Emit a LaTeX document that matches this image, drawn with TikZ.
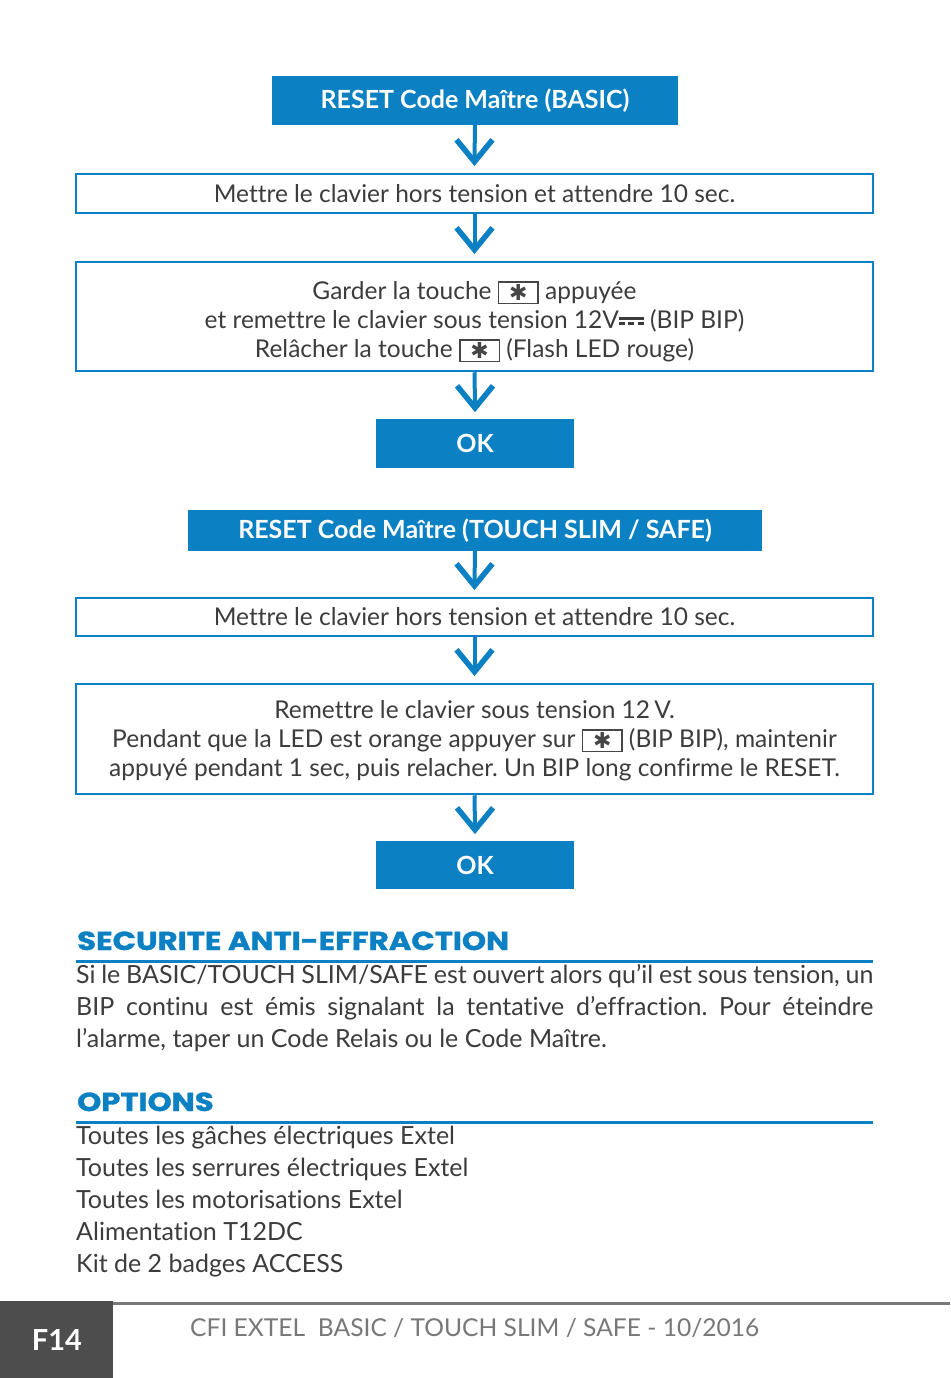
\documentclass[tikz,border=0pt]{standalone}
\usepackage{fontspec}
\setmainfont{Lato}[Ligatures=NoCommon]
\newfontfamily\symfont{DejaVu Sans}
\newfontfamily\headfont{Poppins}[BoldFeatures={FakeBold=1.2}]
\usetikzlibrary{calc}
\frenchspacing
\definecolor{eblue}{RGB}{11,128,194}
\definecolor{etext}{RGB}{60,60,60}
\definecolor{keygrey}{RGB}{70,70,70}
\definecolor{footdark}{RGB}{77,77,77}
\definecolor{footgrey}{RGB}{120,120,120}
\newcommand\keyb{\raisebox{-3pt}{\setlength\fboxsep{0pt}\setlength\fboxrule{1.5pt}\color{keygrey}\fbox{\vbox to 20pt{\vfil\hbox to 38pt{\hfil{\symfont\bfseries\fontsize{22}{22}\selectfont ✱}\hfil}\vfil}}}}
\newcommand\dcsym{\raisebox{3.5pt}{\vbox{\hrule width 25pt height 2.6pt\vskip 2.6pt\hbox{\rule{6pt}{2.6pt}\hskip3.5pt\rule{6pt}{2.6pt}\hskip3.5pt\rule{6pt}{2.6pt}}}}}
\newcommand\flowarrow[2]{%
  \draw[shaft] (#1.south) -- ($(#2.north)+(0,-13)$);
  \draw[chev] ($(#2.north)+(-18,-33)$) -- ($(#2.north)+(0,-11)$) -- ($(#2.north)+(18,-33)$);}
\begin{document}
\begin{tikzpicture}[x=1pt,y=-1pt,
  fillbox/.style={fill=eblue,text=white,inner sep=0pt,font=\bfseries\fontsize{25}{29}\selectfont},
  linebox/.style={draw=eblue,line width=2.5pt,inner sep=0pt,text=etext,font=\fontsize{24.5}{29}\selectfont,align=center,minimum width=797pt},
  shaft/.style={draw=eblue,line width=4pt},
  chev/.style={draw=eblue,line width=5.5pt,miter limit=10},
  head/.style={anchor=base west,inner sep=0pt,text=eblue,font=\headfont\bfseries\fontsize{26}{26}\selectfont},
  body/.style={anchor=base west,inner sep=0pt,text=etext,font=\fontsize{25}{32}\selectfont},
  rule/.style={draw=eblue,line width=3pt}]
\useasboundingbox (0,0) rectangle (950,1378);
\fill[white] (0,0) rectangle (950,1378);

\node[fillbox,minimum width=406pt,minimum height=49pt] (t1) at (475,100.5) {RESET Code Maître (BASIC)};
\node[linebox,minimum height=39pt] (s1) at (474.5,193.5) {Mettre le clavier hors tension et attendre 10 sec.};
\node[linebox,minimum height=109pt,text depth=0pt] (s2) at (474.5,316.5) {};
\node[fillbox,minimum width=198pt,minimum height=49pt] (ok1) at (475,443.5) {OK};
\node[anchor=center,inner sep=0pt,text=etext,font=\fontsize{24.5}{29}\selectfont,align=center] (s2t) at ($(s2.center)+(0,5)$) {Garder la touche \keyb{} appuyée\\et remettre le clavier sous tension 12V\dcsym{} (BIP BIP)\\Relâcher la touche \keyb{} (Flash LED rouge)};
\flowarrow{t1}{s1}
\flowarrow{s1}{s2}
\flowarrow{s2}{ok1}

\node[fillbox,minimum width=574pt,minimum height=41pt] (t2) at (475,530.5) {RESET Code Maître (TOUCH SLIM / SAFE)};
\node[linebox,minimum height=38pt] (s3) at (474.5,617) {Mettre le clavier hors tension et attendre 10 sec.};
\node[linebox,minimum height=110pt] (s4) at (474.5,739) {};
\node[anchor=center,inner sep=0pt,text=etext,font=\fontsize{24.5}{29}\selectfont,align=center] (s4t) at ($(s4.center)+(0,2)$) {Remettre le clavier sous tension 12\,V.\\Pendant que la LED est orange appuyer sur \keyb{} (BIP BIP), maintenir\\appuyé pendant 1 sec, puis relacher. Un BIP long confirme le RESET.};
\node[fillbox,minimum width=198pt,minimum height=48pt] (ok2) at (475,865) {OK};
\flowarrow{t2}{s3}
\flowarrow{s3}{s4}
\flowarrow{s4}{ok2}

\node[head] (h1) at (77,950) {\scalebox{1.18}[1]{SECURITE ANTI-EFFRACTION}};
\draw[rule] (76,961) -- (873,961);
\node[body] (p1) at (76,983) {\makebox[797pt][s]{Si le BASIC/TOUCH SLIM/SAFE est ouvert alors qu’il est sous tension, un}};
\node[body] (p2) at (76,1015) {\makebox[797pt][s]{BIP continu est émis signalant la tentative d’effraction. Pour éteindre}};
\node[body] (p3) at (76,1047) {l’alarme, taper un Code Relais ou le Code Maître.};

\node[head] (h2) at (77,1111) {\scalebox{1.18}[1]{OPTIONS}};
\draw[rule] (76,1122) -- (873,1122);
\node[body] (o1) at (76,1144) {Toutes les gâches électriques Extel};
\node[body] (o2) at (76,1176) {Toutes les serrures électriques Extel};
\node[body] (o3) at (76,1208) {Toutes les motorisations Extel};
\node[body] (o4) at (76,1240) {Alimentation T12DC};
\node[body] (o5) at (76,1272) {Kit de 2 badges ACCESS};

\fill[footdark] (0,1301) rectangle (113,1378);
\draw[footgrey,line width=3pt] (113,1303.5) -- (950,1303.5);
\node[text=white,font=\bfseries\fontsize{29}{29}\selectfont,inner sep=0pt] (pg) at (57,1340) {F14};
\node[anchor=base west,inner sep=0pt,text=footgrey,font=\fontsize{24.6}{24.6}\selectfont] (ft) at (190,1336) {CFI EXTEL\ \ BASIC / TOUCH SLIM / SAFE - 10/2016};
\end{tikzpicture}
\end{document}
